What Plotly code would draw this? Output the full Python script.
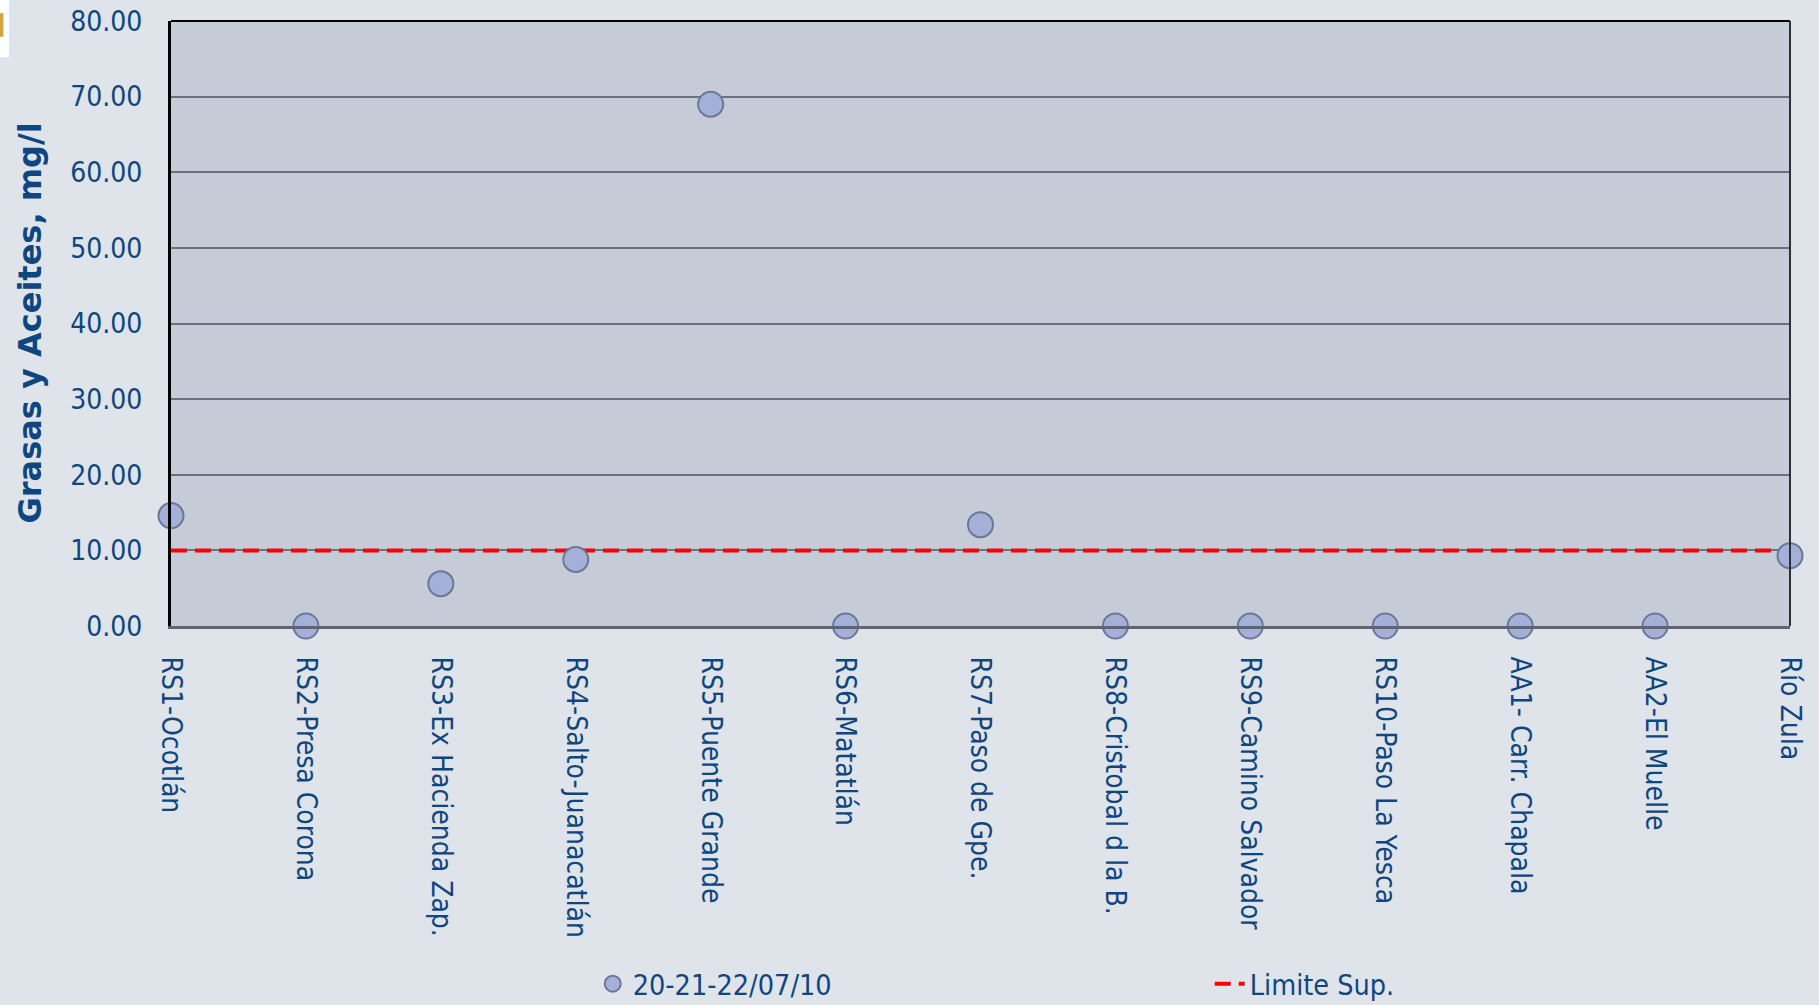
import plotly.graph_objects as go

categories = ["RS1-Ocotlán", "RS2-Presa Corona", "RS3-Ex Hacienda Zap.", "RS4-Salto-Juanacatlán",
              "RS5-Puente Grande", "RS6-Matatlán", "RS7-Paso de Gpe.", "RS8-Cristobal d la B.",
              "RS9-Camino Salvador", "RS10-Paso La Yesca", "AA1- Carr. Chapala", "AA2-El Muelle", "Río Zula"]
values = [14.6, 0.0, 5.6, 8.8, 69.0, 0.0, 13.4, 0.0, 0.0, 0.0, 0.0, 0.0, 9.3]
limit = [10.0] * len(categories)
yticks = [0, 10, 20, 30, 40, 50, 60, 70, 80]
ytick_text = ["0.00", "10.00", "20.00", "30.00", "40.00", "50.00", "60.00", "70.00", "80.00"]
series_name = "20-21-22/07/10"
limit_name = "Limite Sup."
y_title = "Grasas y Aceites, mg/l"

TXT = "#0e467f"
FONT = "DejaVu Sans Condensed, DejaVu Sans"

fig = go.Figure()
fig.add_trace(go.Scatter(
    x=categories, y=limit, name=limit_name, mode="lines",
    line=dict(color="#ff0000", width=4, dash="16px,8px"),
    cliponaxis=False, legendrank=2,
))
fig.add_trace(go.Scatter(
    x=categories, y=values, name=series_name, mode="markers",
    marker=dict(size=25, color="#a4b0d8", line=dict(color="#6c7797", width=2)),
    cliponaxis=False, legendrank=1, legendwidth=572,
))

fig.update_layout(
    width=1819, height=1005, autosize=False,
    margin=dict(l=171, r=29, t=21, b=379, autoexpand=False),
    paper_bgcolor="#dfe3ea",
    plot_bgcolor="#c5ccd8",
    font=dict(family=FONT, size=28, color=TXT),
    showlegend=True,
    legend=dict(
        orientation="h", x=0.2605, y=-0.592, xanchor="left", yanchor="middle",
        bgcolor="rgba(0,0,0,0)",
        font=dict(family=FONT, size=28.5, color=TXT),
    ),
    xaxis=dict(
        type="category", range=[0, 12], tickangle=90,
        showgrid=False, zeroline=False,
        showline=True, linecolor="#5f6473", linewidth=3,
        ticks="", ticklabelstandoff=22,
        tickfont=dict(family=FONT, size=28, color=TXT),
    ),
    yaxis=dict(
        range=[0, 80], tickvals=yticks, ticktext=ytick_text,
        showgrid=True, gridcolor="#6b7080", gridwidth=2,
        zeroline=False, showline=True, linecolor="#000000", linewidth=3,
        mirror=False, ticks="", ticklabelstandoff=20,
        tickfont=dict(family=FONT, size=28, color=TXT),
    ),
    shapes=[
        dict(type="line", xref="paper", yref="paper", x0=0, x1=1, y0=1, y1=1,
             line=dict(color="#000000", width=2)),
        dict(type="line", xref="paper", yref="paper", x0=1, x1=1, y0=0, y1=1,
             line=dict(color="#2b2f3a", width=2)),
        dict(type="rect", xref="paper", yref="paper", x0=-0.1057, x1=-0.1001, y0=0.94, y1=1.035,
             line=dict(width=0), fillcolor="#ffffff"),
        dict(type="rect", xref="paper", yref="paper", x0=-0.1057, x1=-0.1035, y0=0.974, y1=1.013,
             line=dict(width=0), fillcolor="#d8a630"),
    ],
    annotations=[
        dict(text="<b>" + y_title + "</b>", textangle=-90, xref="paper", yref="paper",
             x=-0.0877, y=0.5, xanchor="center", yanchor="middle", showarrow=False,
             font=dict(family="DejaVu Sans", size=32, color=TXT)),
    ],
)

fig.write_html("out.html", config={"displayModeBar": False},
               post_script="document.body.style.margin='0';document.body.style.padding='0';")
